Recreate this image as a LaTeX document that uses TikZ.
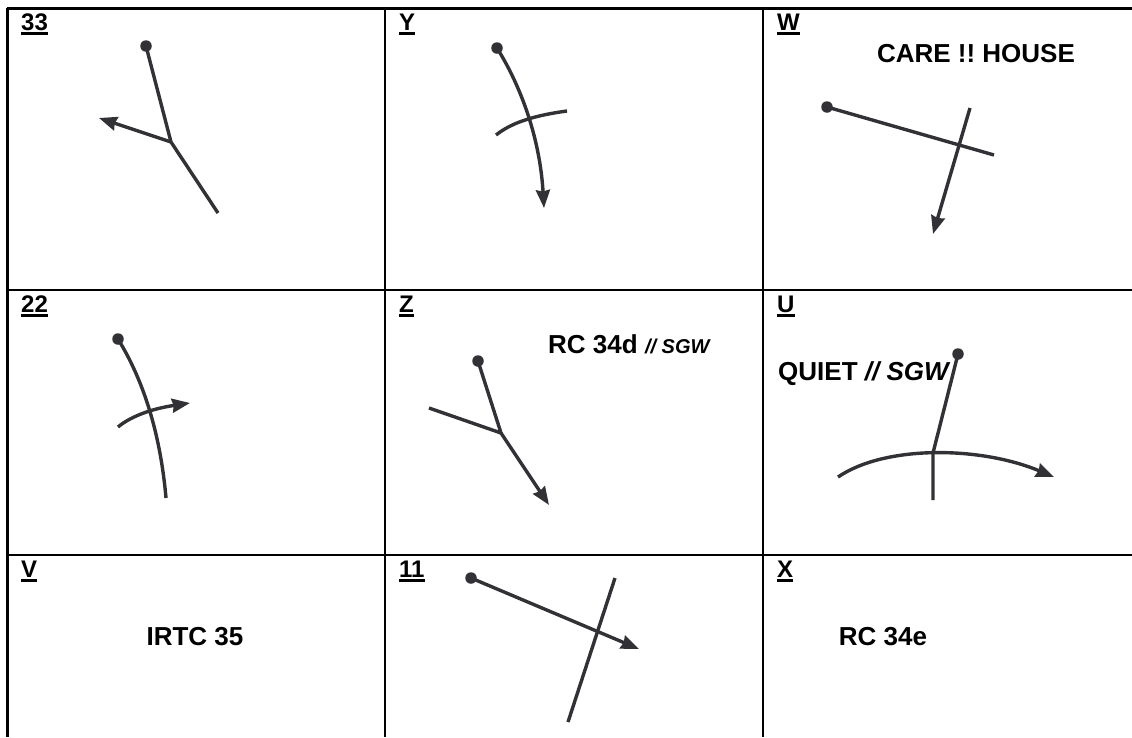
\documentclass[tikz,border=0pt]{standalone}
\usepackage{fontspec}
\setmainfont{Liberation Sans}
\usetikzlibrary{arrows.meta}
\definecolor{roadgray}{RGB}{50,50,54}
\frenchspacing
\newcommand{\cellid}[1]{\setbox0\hbox{\bfseries #1}\rlap{\rule[-4.5pt]{\wd0}{2.6pt}}\box0}
\tikzset{
  road/.style={line width=3.4pt, color=roadgray},
  arr/.style={-{Stealth[inset=1.5pt,length=18pt,width=14pt]}},
  dot/.style={circle, fill=roadgray, inner sep=0pt, minimum size=11.5pt},
  cellno/.style={anchor=base west, font=\fontsize{24}{26}\selectfont, inner sep=0pt},
  sign/.style={font=\fontsize{26}{29}\selectfont\bfseries, inner sep=0pt}
}
\begin{document}
\begin{tikzpicture}[x=1pt,y=-1pt]
\useasboundingbox (0,0) rectangle (1132,737);
% table
\draw [line width=3pt] (7,8) -- (1132,8);
\draw [line width=2.4pt] (7,290) -- (1132,290);
\draw [line width=2.4pt] (7,555) -- (1132,555);
\draw [line width=3pt] (7,8) -- (7,737);
\draw [line width=2.4pt] (385,8) -- (385,737);
\draw [line width=2.4pt] (763,8) -- (763,737);
% cell numbers
\node[cellno] (c33) at (21,30) {\cellid{33}};
\node[cellno] (cY) at (399,30) {\cellid{Y}};
\node[cellno] (cW) at (777,30) {\cellid{W}};
\node[cellno] (c22) at (21,312) {\cellid{22}};
\node[cellno] (cZ) at (399,312) {\cellid{Z}};
\node[cellno] (cU) at (777,312) {\cellid{U}};
\node[cellno] (cV) at (21,577) {\cellid{V}};
\node[cellno] (c11) at (399,577) {\cellid{11}};
\node[cellno] (cX) at (777,577) {\cellid{X}};
% signs
\node[sign, anchor=base] (care) at (976,62) {CARE !! HOUSE};
\node[sign, anchor=base west] (rc34d) at (548,353) {RC 34d \fontsize{20}{22}\selectfont\itshape // SGW};
\node[sign, anchor=base west] (quiet) at (778,380) {QUIET \itshape // SGW};
\node[sign, anchor=base] (irtc) at (195,645) {IRTC 35};
\node[sign, anchor=base] (rc34e) at (883,645) {RC 34e};
% 33
\node[dot] (s33) at (146,46) {};
\coordinate (j33) at (171,142);
\coordinate (a33) at (99,118);
\coordinate (e33) at (218,213);
\draw [road] (s33.center) -- (j33) -- (e33);
\draw [road, arr] (j33) -- (a33);
% Y
\node[dot] (sY) at (497,48) {};
\coordinate (aY) at (544,208);
\coordinate (lY) at (496,135);
\coordinate (rY) at (567,111);
\draw [road, arr] (sY.center) .. controls (522,88) and (540,140) .. (aY);
\draw [road] (lY) .. controls (510,124) and (530,116) .. (rY);
% W
\node[dot] (sW) at (827,107) {};
\coordinate (eW) at (994,155);
\coordinate (tW) at (970,108);
\coordinate (aW) at (933,234);
\draw [road] (sW.center) -- (eW);
\draw [road, arr] (tW) -- (aW);
% 22
\node[dot] (s22) at (118,339) {};
\coordinate (e22) at (166,498);
\coordinate (l22) at (118,427);
\coordinate (a22) at (190,403);
\draw [road] (s22.center) .. controls (142,378) and (160,430) .. (e22);
\draw [road, arr] (l22) .. controls (130,417) and (150,409) .. (a22);
% Z
\node[dot] (sZ) at (478,361) {};
\coordinate (jZ) at (501,433);
\coordinate (lZ) at (429,408);
\coordinate (aZ) at (549,505);
\draw [road] (sZ.center) -- (jZ) -- (lZ);
\draw [road, arr] (jZ) -- (aZ);
% U
\node[dot] (sU) at (958,354) {};
\coordinate (tU) at (933,453);
\coordinate (bU) at (933,500);
\coordinate (lU) at (838,477);
\coordinate (aU) at (1054,477);
\draw [road] (sU.center) -- (tU) -- (bU);
\draw [road, arr] (lU) .. controls (885,445) and (980,446) .. (aU);
% 11
\node[dot] (s11) at (471,578) {};
\coordinate (a11) at (639,649);
\coordinate (t11) at (615,578);
\coordinate (b11) at (568,722);
\draw [road, arr] (s11.center) -- (a11);
\draw [road] (t11) -- (b11);
\end{tikzpicture}
\end{document}
